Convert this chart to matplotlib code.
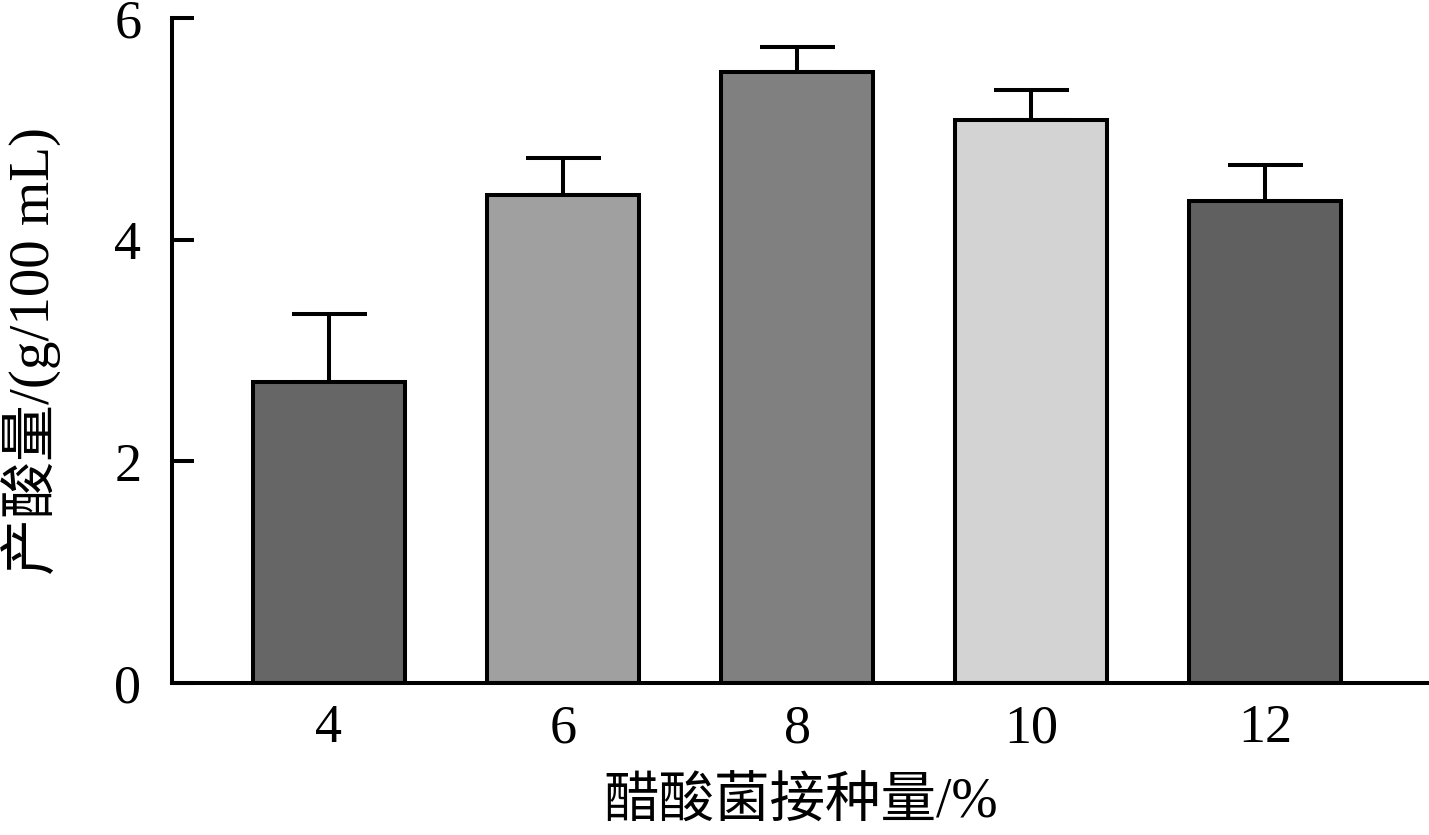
import matplotlib
matplotlib.use("Agg")
import matplotlib.pyplot as plt
import numpy as np

plt.rcParams['font.family'] = ['Liberation Serif', 'Noto Sans CJK SC']

# data
doses = ["4", "6", "8", "10", "12"]
acid = [2.72, 4.40, 5.51, 5.08, 4.35]
acid_err = [0.61, 0.34, 0.23, 0.27, 0.32]
bar_colors = ["#666666", "#a0a0a0", "#808080", "#d3d3d3", "#606060"]

fig = plt.figure(figsize=(14.29, 8.35), dpi=100)
ax = fig.add_axes([0.1204, 0.182, 0.8796, 0.7964])

x = np.arange(len(doses))
lw = 2.9
ax.bar(x, acid, width=0.65, color=bar_colors, edgecolor="black", linewidth=lw, zorder=2)
ax.errorbar(x, acid, yerr=[np.zeros(len(acid)), acid_err], fmt="none",
            ecolor="black", elinewidth=lw, capsize=27, capthick=lw, zorder=1)

ax.set_xlim(-0.67, 4.70)
ax.set_ylim(0, 6)
ax.set_yticks([0, 2, 4, 6])
ax.set_xticks(x)
ax.set_xticklabels(doses)

for s in ["top", "right"]:
    ax.spines[s].set_visible(False)
for s in ["left", "bottom"]:
    ax.spines[s].set_linewidth(lw)

ax.tick_params(axis="both", direction="in", length=16, width=lw, labelsize=39)
ax.tick_params(axis="x", pad=15)
ax.tick_params(axis="y", pad=22)

ax.set_xlabel("醋酸菌接种量/%", fontsize=40, labelpad=17)
ax.set_ylabel("产酸量/(g/100 mL)", fontsize=41, labelpad=38)

fig.savefig("out.png", dpi=100)
